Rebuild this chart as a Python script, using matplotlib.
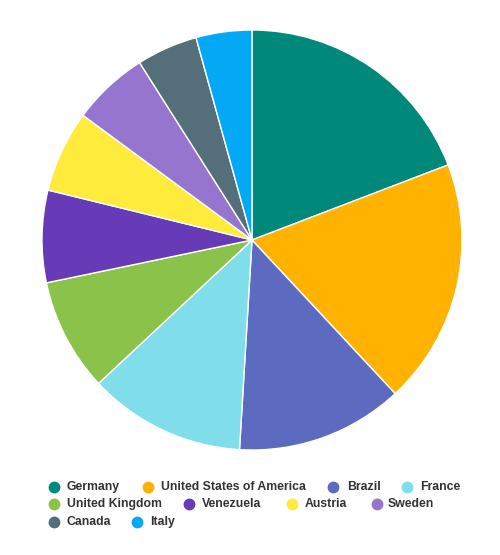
import numpy as np
import matplotlib.pyplot as plt

# Dati (quote in percentuale)
paesi = ['Germany', 'United States of America', 'Brazil', 'France',
         'United Kingdom', 'Venezuela', 'Austria', 'Sweden', 'Canada', 'Italy']
valori = [19.2, 18.9, 12.9, 12.1, 8.7, 7.1, 6.3, 5.9, 4.7, 4.3]
colori = ['#00897B', '#FFB300', '#5C6BC0', '#80DEEA', '#8BC34A',
          '#673AB7', '#FFEB3B', '#9575CD', '#546E7A', '#03A9F4']

fig = plt.figure(figsize=(5, 5.55), dpi=100)

# Torta
ax = fig.add_axes([42 / 500, 105 / 555, 420 / 500, 420 / 555])
ax.pie(valori, colors=colori, startangle=90, counterclock=False,
       wedgeprops=dict(edgecolor='white', linewidth=1))
ax.set_xlim(-1, 1)
ax.set_ylim(-1, 1)
ax.set_aspect('equal')

# Legenda disegnata a mano (posizioni in pixel)
leg = fig.add_axes([0, 0, 1, 1])
leg.set_xlim(0, 500)
leg.set_ylim(555, 0)
leg.axis('off')
pos_legenda = [(54, 66.7, 486.7), (147.7, 160.7, 486.7), (333, 346.7, 486.7), (406.7, 420, 486.7),
               (54, 66.7, 504), (189, 202, 504), (291.7, 305, 504), (376.7, 388, 504),
               (54, 66.7, 521.7), (137.3, 150, 521.7)]
for nome, col, (mx, tx, y) in zip(paesi, colori, pos_legenda):
    leg.plot(mx, y, 'o', color=col, markersize=7.5)
    leg.text(tx, y, nome, va='center', ha='left', fontsize=8.8,
             fontweight='bold', color='#333333', family='Liberation Sans')

fig.savefig('out.png', dpi=100)
